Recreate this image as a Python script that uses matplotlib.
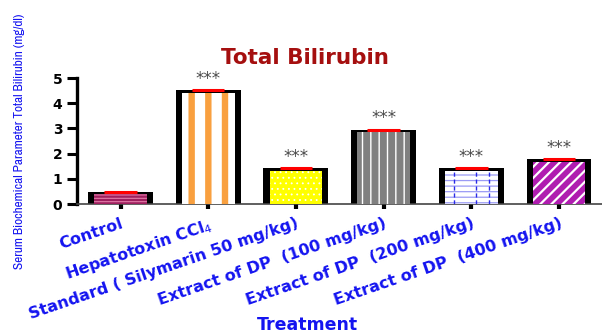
import numpy as np
import matplotlib
matplotlib.use("Agg")
import matplotlib.pyplot as plt
from matplotlib import font_manager

groups = ["Control", "Hepatotoxin CCl$_4$", "Standard ( Silymarin 50 mg/kg)",
          "Extract of DP  (100 mg/kg)", "Extract of DP  (200 mg/kg)",
          "Extract of DP  (400 mg/kg)"]
bilirubin = [0.48, 4.52, 1.42, 2.95, 1.42, 1.77]
signif = ["", "***", "***", "***", "***", "***"]

faces = ["#9e1f5e", "white", "#ffff00", "#808080", "white", "#b01cb0"]
hatches = ["-----", "|", "...", "||", "---", "///"]
hatch_cols = ["#e27aa8", "#f9a03f", "white", "white", "#9a9af5", "white"]
hatch_lws = [0.8, 4.6, 0.6, 1.0, 0.9, 1.6]

narrow = [f.name for f in font_manager.fontManager.ttflist if "Narrow" in f.name]
ylab_family = [narrow[0], "DejaVu Sans"] if narrow else ["Liberation Sans", "DejaVu Sans"]

fig = plt.figure(figsize=(6.02, 3.35), dpi=100)
ax = fig.add_axes([0.128, 0.391, 0.872, 0.376])

x = np.arange(len(groups))
# thick black outline bars, then the patterned fill inside
ax.bar(x, bilirubin, width=0.74, color="black", zorder=2)
inner = [v - 0.1 for v in bilirubin]
for i in range(len(groups)):
    with plt.rc_context({"hatch.linewidth": hatch_lws[i], "hatch.color": hatch_cols[i]}):
        b = ax.bar(x[i], inner[i], width=0.6, color=faces[i], hatch=hatches[i],
                   edgecolor=hatch_cols[i], linewidth=0, zorder=3)
    for p in b:
        if hasattr(p, "set_hatch_linewidth"):
            p.set_hatch_linewidth(hatch_lws[i])
        p._hatch_color = matplotlib.colors.to_rgba(hatch_cols[i])

# dashed verticals inside the 200 mg/kg bar
for off in (-0.2, 0.05, 0.2):
    ax.vlines(x[4] + off, 0, inner[4], colors="#2a2ae8", linestyles=(0, (3, 2)),
              linewidth=1.0, zorder=4)

# SEM caps
ax.hlines(bilirubin, x - 0.185, x + 0.185, colors="red", linewidth=2.2, zorder=5)

for i, s in enumerate(signif):
    if s:
        ax.text(x[i], bilirubin[i] + 0.1, s, ha="center", va="bottom",
                fontsize=12, color="#4a4a4a", zorder=6)

ax.set_xlim(-0.496, 5.49)
ax.set_ylim(0, 5)
ax.set_yticks([0, 1, 2, 3, 4, 5])
ax.set_xticks(x)
ax.set_xticklabels(groups, rotation=19, ha="right", va="top",
                   rotation_mode="anchor", fontsize=11.5, fontweight="bold",
                   color="#1414f0")
for lab in ax.get_yticklabels():
    lab.set_fontweight("bold")
    lab.set_fontsize(10)

ax.spines["top"].set_visible(False)
ax.spines["right"].set_visible(False)
ax.spines["left"].set_linewidth(2.4)
ax.spines["bottom"].set_linewidth(1.2)
ax.spines["bottom"].set_color("#444444")
ax.tick_params(axis="y", length=7, width=2.2, pad=3.5)
ax.tick_params(axis="x", length=3.5, width=3, pad=5)

ax.set_ylabel("Serum Biochemical Parameter Total Bilirubin (mg/dl)",
              family=ylab_family, fontsize=9.5, color="#1414f0")
ax.yaxis.set_label_coords(-0.099, 0.5)

fig.text(0.507, 0.827, "Total Bilirubin", ha="center", va="center",
         fontsize=15.5, fontweight="bold", color="#a50f0f")
fig.text(0.51, 0.03, "Treatment", ha="center", va="center",
         fontsize=12.5, fontweight="bold", color="#1414f0")

fig.savefig("out.png", dpi=100)
